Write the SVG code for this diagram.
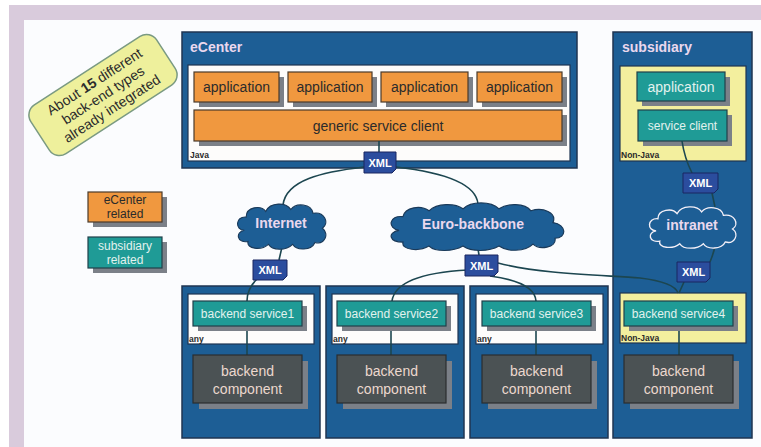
<svg xmlns="http://www.w3.org/2000/svg" xmlns:xlink="http://www.w3.org/1999/xlink" width="761" height="447" viewBox="0 0 761 447">
<style>
text{font-family:"Liberation Sans",Arial,sans-serif}
.cont{fill:#1d5e95;stroke:#1f3452;stroke-width:1.5}
.ctitle{fill:#ead8ee;font-weight:bold;font-size:14px}
.inner{fill:#fdfcfb;stroke:#1f3452;stroke-width:1.2}
.yel{fill:#f3ef9e;stroke:#1f3452;stroke-width:1.2}
.tag{fill:#2a2a2a;font-weight:bold;font-size:8.5px}
.sh{fill:#7b8088}
.org{fill:#f0983f;stroke:#4a3a2a;stroke-width:1.2}
.teal{fill:#1f9b96;stroke:#20404a;stroke-width:1.2}
.comp{fill:#4b5254;stroke:#2a2e30;stroke-width:1.2}
.otx{fill:#2b2b2b;font-size:14px;text-anchor:middle}
.ttx{fill:#e2f2ee;font-size:12px;text-anchor:middle}
.ttx14{fill:#e2f2ee;font-size:14px;text-anchor:middle}
.ctx{fill:#ecd8ce;font-size:14px;text-anchor:middle}
.xml{fill:#2b4d9e;stroke:#1a2660;stroke-width:1}
.xtx{fill:#ffffff;font-weight:bold;font-size:11px;text-anchor:middle}
.cloud{fill:#1d5e95;stroke:#1a3a5a;stroke-width:1.2}
.cloudw{fill:#1d5e95;stroke:#f4f0f8;stroke-width:1.5}
.cltx{fill:#ead8ee;font-weight:bold;font-size:14px;text-anchor:middle}
.ln{fill:none;stroke:#1c4650;stroke-width:1.6}
</style>
<defs>
<path id="cl" d="M10,30 C0,30 0,15 12,16 C12,5 28,3 33,10 C38,0 55,0 60,8 C66,0 82,2 84,12 C96,10 102,22 94,28 C102,34 96,46 86,43 C82,52 66,52 62,45 C55,52 40,52 36,45 C28,52 12,50 14,42 C2,44 0,32 10,30 Z"/>
<path id="clw" d="M12,30 C0,28 2,14 16,16 C18,6 34,4 42,10 C50,2 68,2 76,8 C84,0 104,0 112,8 C120,2 138,2 144,10 C156,6 170,12 166,22 C180,24 180,38 168,38 C170,48 152,50 146,44 C138,52 120,52 112,46 C102,52 84,52 76,46 C66,52 48,52 42,46 C32,52 14,50 16,42 C2,42 0,32 12,30 Z"/>
</defs>
<rect x="0" y="0" width="761" height="447" fill="#ffffff"/>
<rect x="9" y="5" width="752" height="442" fill="#d9cbdc"/>
<rect x="24" y="20" width="737" height="427" fill="#fbfcfe"/>

<g id="note" transform="translate(103,95) rotate(-33)">
<rect x="-75" y="-29" width="150" height="58" rx="12" fill="#eef09c" stroke="#7a9a82" stroke-width="1.5"/>
<text x="0" y="-11" text-anchor="middle" font-size="14" fill="#2b2b2b">About <tspan font-weight="bold">15</tspan> different</text>
<text x="0" y="5" text-anchor="middle" font-size="14" fill="#2b2b2b">back-end types</text>
<text x="0" y="21" text-anchor="middle" font-size="14" fill="#2b2b2b">already integrated</text>
</g>

<g id="legend-ecenter">
<rect class="sh" x="93" y="197" width="74" height="30"/>
<rect class="org" x="88" y="192" width="74" height="30"/>
<text x="125" y="204" font-size="12" text-anchor="middle" fill="#2b2b2b">eCenter</text>
<text x="125" y="218" font-size="12" text-anchor="middle" fill="#2b2b2b">related</text>
</g>
<g id="legend-subsidiary">
<rect class="sh" x="93" y="242" width="74" height="31"/>
<rect class="teal" x="88" y="237" width="74" height="31"/>
<text x="125" y="250" font-size="12" text-anchor="middle" fill="#e2f2ee">subsidiary</text>
<text x="125" y="264" font-size="12" text-anchor="middle" fill="#e2f2ee">related</text>
</g>

<g id="ecenter">
<rect class="cont" x="182" y="32" width="395" height="136"/>
<text class="ctitle" x="190" y="52">eCenter</text>
<rect class="inner" x="188" y="65" width="382" height="96"/>
<text class="tag" x="190" y="158">Java</text>
</g>
<g id="app1"><rect class="sh" x="199" y="77" width="85" height="30"/><rect class="org" x="194" y="72" width="85" height="30"/><text class="otx" x="236.5" y="92">application</text></g>
<g id="app2"><rect class="sh" x="293" y="77" width="84" height="30"/><rect class="org" x="288" y="72" width="84" height="30"/><text class="otx" x="330" y="92">application</text></g>
<g id="app3"><rect class="sh" x="386" y="77" width="87" height="30"/><rect class="org" x="381" y="72" width="87" height="30"/><text class="otx" x="424.5" y="92">application</text></g>
<g id="app4"><rect class="sh" x="482" y="77" width="85" height="30"/><rect class="org" x="477" y="72" width="85" height="30"/><text class="otx" x="519.5" y="92">application</text></g>
<g id="generic-client"><rect class="sh" x="199" y="115" width="368" height="31"/><rect class="org" x="194" y="110" width="368" height="31"/><text class="otx" x="378" y="131">generic service client</text></g>

<g id="subsidiary">
<rect class="cont" x="613" y="32" width="139" height="406"/>
<text class="ctitle" x="622" y="52">subsidiary</text>
<rect class="yel" x="620" y="66" width="126" height="95"/>
<text class="tag" x="621" y="158">Non-Java</text>
</g>
<g id="sub-app"><rect class="sh" x="642" y="77" width="88" height="29"/><rect class="teal" x="637" y="72" width="88" height="29"/><text class="ttx14" x="681" y="92">application</text></g>
<g id="sub-client"><rect class="sh" x="643" y="115" width="89" height="31"/><rect class="teal" x="638" y="110" width="89" height="31"/><text class="ttx" x="682.5" y="130">service client</text></g>

<g id="be1">
<rect class="cont" x="182" y="286" width="138" height="152"/>
<rect class="inner" x="188" y="294" width="126" height="50"/>
<text class="tag" x="189" y="342">any</text>
</g>
<g id="be2">
<rect class="cont" x="326" y="286" width="138" height="152"/>
<rect class="inner" x="332" y="294" width="126" height="50"/>
<text class="tag" x="333" y="342">any</text>
</g>
<g id="be3">
<rect class="cont" x="470" y="286" width="138" height="152"/>
<rect class="inner" x="476" y="294" width="127" height="50"/>
<text class="tag" x="477" y="342">any</text>
</g>
<g id="be4">
<rect class="yel" x="620" y="293" width="126" height="50"/>
<text class="tag" x="621" y="341">Non-Java</text>
</g>

<g id="connectors">
<path class="ln" d="M379,141 L379,152"/>
<path class="ln" d="M364,167 C322,172 286,180 283,205"/>
<path class="ln" d="M396,167 C440,172 476,182 478,204"/>
<path class="ln" d="M282,247 L279,260"/>
<path class="ln" d="M257,279 C250,286 247,292 247,301"/>
<path class="ln" d="M478,249 L479,255"/>
<path class="ln" d="M468,270 C430,272 395,280 392,301"/>
<path class="ln" d="M490,276 C520,280 535,288 536,301"/>
<path class="ln" d="M498,263 C540,274 600,275 640,278 C665,281 676,287 678,293"/>
<path class="ln" d="M682,141 C684,155 688,165 692,173"/>
<path class="ln" d="M712,193 L715,207"/>
<path class="ln" d="M715,246 C714,252 712,257 710,262"/>
<path class="ln" d="M684,282 L679,293"/>
<path class="ln" d="M247,326 L247,355"/>
<path class="ln" d="M391,326 L391,355"/>
<path class="ln" d="M536,326 L536,355"/>
<path class="ln" d="M679,326 L679,355"/>
</g>

<g id="svc1"><rect class="sh" x="198" y="306" width="109" height="25"/><rect class="teal" x="193" y="301" width="109" height="25"/><text class="ttx" x="247.5" y="318">backend service1</text></g>
<g id="svc2"><rect class="sh" x="342" y="306" width="109" height="25"/><rect class="teal" x="337" y="301" width="109" height="25"/><text class="ttx" x="391.5" y="318">backend service2</text></g>
<g id="svc3"><rect class="sh" x="487" y="306" width="109" height="25"/><rect class="teal" x="482" y="301" width="109" height="25"/><text class="ttx" x="536.5" y="318">backend service3</text></g>
<g id="svc4"><rect class="sh" x="629" y="306" width="109" height="25"/><rect class="teal" x="624" y="301" width="109" height="25"/><text class="ttx" x="678.5" y="318">backend service4</text></g>

<g id="comp1"><rect class="sh" x="199" y="361" width="109" height="48"/><rect class="comp" x="193" y="355" width="109" height="48"/><text class="ctx" x="247.5" y="376">backend</text><text class="ctx" x="247.5" y="394">component</text></g>
<g id="comp2"><rect class="sh" x="343" y="361" width="109" height="48"/><rect class="comp" x="337" y="355" width="109" height="48"/><text class="ctx" x="391.5" y="376">backend</text><text class="ctx" x="391.5" y="394">component</text></g>
<g id="comp3"><rect class="sh" x="488" y="361" width="109" height="48"/><rect class="comp" x="482" y="355" width="109" height="48"/><text class="ctx" x="536.5" y="376">backend</text><text class="ctx" x="536.5" y="394">component</text></g>
<g id="comp4"><rect class="sh" x="630" y="361" width="109" height="48"/><rect class="comp" x="624" y="355" width="109" height="48"/><text class="ctx" x="678.5" y="376">backend</text><text class="ctx" x="678.5" y="394">component</text></g>

<g id="internet"><use href="#cl" class="cloud" transform="translate(235,202) scale(0.93,0.94)"/><text class="cltx" x="281" y="228">Internet</text></g>
<g id="euro-backbone"><use href="#clw" class="cloud" transform="translate(387,201) scale(1.0,0.98)"/><text class="cltx" x="473" y="229">Euro-backbone</text></g>
<g id="intranet"><use href="#cl" class="cloudw" transform="translate(647,205) scale(0.91,0.86)"/><text class="cltx" x="692" y="230" fill="#f4eef8">intranet</text></g>

<g id="xml-top"><path class="xml" d="M364,152 h32 v17 l-4,4 h-28 z"/><text class="xtx" x="380" y="167">XML</text></g>
<g id="xml-internet"><path class="xml" d="M253,260 h34 v16 l-4,4 h-30 z"/><text class="xtx" x="270" y="274">XML</text></g>
<g id="xml-euro"><path class="xml" d="M465,255 h33 v17 l-4,4 h-29 z"/><text class="xtx" x="481.5" y="270">XML</text></g>
<g id="xml-sub1"><path class="xml" d="M683,173 h35 v16 l-4,4 h-31 z"/><text class="xtx" x="700.5" y="187">XML</text></g>
<g id="xml-sub2"><path class="xml" d="M677,262 h33 v16 l-4,4 h-29 z"/><text class="xtx" x="693.5" y="276">XML</text></g>
</svg>
